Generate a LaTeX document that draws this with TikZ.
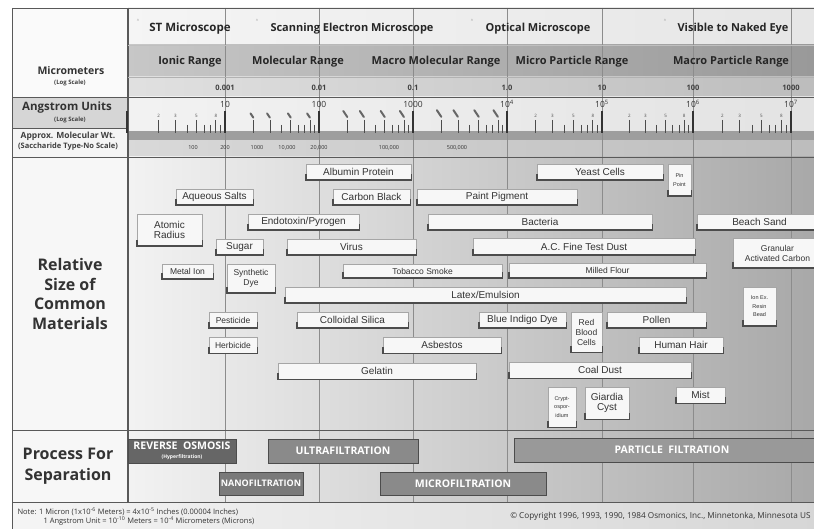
\documentclass[tikz,border=0pt]{standalone}
\usepackage{fontspec}
\setsansfont{Liberation Sans}
\newfontfamily\gill{Open Sans}
\usepackage{tikz}

\begin{document}
\begin{tikzpicture}[x=1pt, y=-1pt,
    mat/.style={draw=black!35, fill=black!3, inner sep=0pt, align=center, text=black!80},
    matL/.style={mat, font=\sffamily\fontsize{10}{10.5}\selectfont},
    matM/.style={mat, font=\sffamily\fontsize{8.5}{10}\selectfont},
    matS/.style={mat, font=\sffamily\fontsize{5.5}{8.5}\selectfont},
    foot/.style={line width=1.4pt, black!70},
    proc/.style={draw=black!70, line width=0.8pt, text=white, inner sep=0pt, align=center,
        font=\gill\bfseries\fontsize{10.5}{10}\selectfont},
    head/.style={font=\gill\bfseries\fontsize{11}{12}\selectfont, text=black!85},
    side label/.style={font=\gill\bfseries\fontsize{16}{19.5}\selectfont, align=center, text=black!80},
    smallbold/.style={font=\gill\bfseries\fontsize{6}{7}\selectfont, text=black!75, align=center},
    scale num/.style={font=\gill\fontsize{8.5}{9}\selectfont, text=black!80},
    tick num/.style={font=\gill\fontsize{4.5}{5}\selectfont, text=black!70},
    note/.style={font=\gill\fontsize{7.5}{8}\selectfont, text=black!80},
    frame line/.style={black!65, line width=0.8pt},
    decade line/.style={black!45, line width=0.6pt},
    minor tick/.style={black!70, line width=0.7pt},
    major tick/.style={black!80, line width=1.3pt},
    mol/.style={black!60, line width=2pt, line cap=round},
]
    \useasboundingbox (0,0) rectangle (814,529);
    \path[clip] (0,0) rectangle (814,529);
    \fill[white] (0,0) rectangle (814,529);
    % Backgrounds
    \shade[left color=black!4, right color=black!16] (12,502) rectangle (814,529);
    \shade[left color=black!4, right color=black!10] (128,8) rectangle (814,45);
    \shade[left color=black!22, right color=black!40] (128,45) rectangle (814,77);
    \shade[left color=black!12, right color=black!26] (128,77) rectangle (814,97);
    \shade[left color=black!5, right color=black!11] (128,97) rectangle (814,131);
    \fill[black!38] (128,131) rectangle (814,141);
    \shade[left color=black!15, right color=black!26] (128,141) rectangle (814,157);
    \shade[left color=black!5, right color=black!34] (128,157) rectangle (814,502);
    \fill[black!2] (12,8) rectangle (128,97);
    \fill[black!16] (12,97) rectangle (128,128);
    \fill[black!4] (12,128) rectangle (128,157);
    \fill[black!3] (12,157) rectangle (128,502);
    % Decade lines
    \foreach \x in {225,319,413,507,602,693,791}
        \draw[decade line] (\x,8) -- (\x,502);
    % Frame
    \draw[frame line] (12,8) -- (814,8);
    \draw[frame line] (12,8) -- (12,529);
    \draw[frame line, line width=1.6pt] (128,8) -- (128,502);
    \foreach \y in {97,157,430,502}
        \draw[frame line] (12,\y) -- (814,\y);
    \draw[frame line] (12,128) -- (128,128);
    \draw[black!25] (128,45) -- (814,45);
    \draw[black!30] (128,77) -- (814,77);

    % Microscopes
    \node[head, font=\gill\bfseries\fontsize{11.5}{12}\selectfont] (stm) at (190,29) {ST Microscope};
    \node[head] (sem) at (352,29) {Scanning Electron Microscope};
    \node[head] (opt) at (538,29) {Optical Microscope};
    \node[head] (eye) at (733,29) {Visible to Naked Eye};
    \foreach \x in {138,257,472,665}
        \node[tick num, text=black!45] (car\x) at (\x,21) {\textasciicircum};
    % Ranges
    \node[head] (ionic) at (190,62) {Ionic Range};
    \node[head] (molec) at (298,62) {Molecular Range};
    \node[head] (macmol) at (436,62) {Macro Molecular Range};
    \node[head] (micpart) at (572,62) {Micro Particle Range};
    \node[head] (macpart) at (731,62) {Macro Particle Range};
    % Micrometers
    \foreach \x/\v in {225/0.001,319/0.01,413/0.1,507/1.0,602/10,693/100,791/1000}
        \node[smallbold, font=\gill\bfseries\fontsize{7.5}{8}\selectfont] (um\x) at (\x,88) {\v};
    % Angstrom scale
    \foreach \a/\b in {130/225,225/319,319/413,413/507,507/602,602/693,693/791}{
        \foreach \k in {4,6,7,9}
            \draw[minor tick] ({\a+(\b-\a)*log10(\k)},125) -- ++(0,8);
        \foreach \k in {2,3,5,8}
            \draw[minor tick] ({\a+(\b-\a)*log10(\k)},120) -- ++(0,13);
    }
    \foreach \a/\b in {130/225,507/602,602/693,693/791}
        \foreach \k in {2,3,5,8}
            \node[tick num] (tk\a-\k) at ({\a+(\b-\a)*log10(\k)},116) {\k};
    \foreach \a/\b/\s in {225/319/0.7,319/413/1,413/507/1.1}
        \foreach \k in {2,3,5,8}
            \draw[mol] ({\a+(\b-\a)*log10(\k)-4*\s},{119-8*\s}) -- ({\a+(\b-\a)*log10(\k)},{119-2*\s});
    \draw[major tick] (127,111) -- (127,133);
    \foreach \x/\t in {225/10,319/100,413/1000,507/10\textsuperscript{4},602/10\textsuperscript{5},693/10\textsuperscript{6},791/10\textsuperscript{7}}{
        \draw[major tick] (\x,111) -- (\x,133);
        \node[scale num] (ang\x) at (\x,104) {\t};
    }
    % Molecular weight
    \foreach \x/\v in {193/100,225/200,257/1000,287/{10,000},319/{20,000},389/{100,000},457/{500,000}}
        \node[note, font=\gill\fontsize{5.5}{6}\selectfont] (mw\x) at (\x,148) {\v};

    % Left column
    \node[font=\gill\bfseries\fontsize{10.5}{13}\selectfont, text=black!80] (um) at (71,71) {Micrometers};
    \node[smallbold] (umlog) at (70,83) {(Log Scale)};
    \node[font=\gill\bfseries\fontsize{11.5}{13}\selectfont, text=black!80] (au) at (67,108) {Angstrom Units};
    \node[smallbold] (aulog) at (70,120) {(Log Scale)};
    \node[smallbold, font=\gill\bfseries\fontsize{8.5}{8}\selectfont] (mwt) at (68,136) {Approx. Molecular Wt.};
    \node[smallbold, font=\gill\bfseries\fontsize{7.5}{7}\selectfont] (sacc) at (68,147) {(Saccharide Type-No Scale)};
    \node[side label] (rel) at (70,294) {Relative\\Size of\\Common\\Materials};
    \node[side label, font=\gill\bfseries\fontsize{16}{21}\selectfont] (proc) at (68,466) {Process For\\Separation};

    % Materials
    \foreach \nm/\cx/\cy/\w/\h/\st/\txt in {
        albumin/358.5/172/105/16/matL/{Albumin Protein},
        aqsalts/214.5/197/77/16/matL/{Aqueous Salts},
        carbon/371.5/197/77/16/matL/{Carbon Black},
        atomic/169.5/230/65/32/matL/{Atomic\\Radius},
        endotox/303.5/222/111/16/matL/{Endotoxin/Pyrogen},
        sugar/239.5/247/47/16/matL/{Sugar},
        virus/351.5/247/129/16/matL/{Virus},
        metalion/187.5/271.5/51/15/matM/{Metal Ion},
        syndye/251/278.5/48/29/matM/{Synthetic\\Dye},
        tobacco/422.5/271/159/14/matM/{Tobacco Smoke},
        latex/485.5/295/401/16/matL/{Latex/Emulsion},
        pesticide/233/320/48/16/matM/{Pesticide},
        silica/352.5/320/111/16/matL/{Colloidal Silica},
        herbicide/233/345/48/16/matM/{Herbicide},
        asbestos/442/345/118/16/matL/{Asbestos},
        gelatin/377/371/198/16/matL/{Gelatin},
        indigo/522.5/320/87/16/matL/{Blue Indigo Dye},
        yeast/600/172/126/16/matL/{Yeast Cells},
        pinpoint/679.5/180/23/32/matS/{Pin\\Point},
        paint/497/197/160/16/matL/{Paint Pigment},
        bacteria/540/222/224/16/matL/{Bacteria},
        beach/759.5/222/125/16/matL/{Beach Sand},
        acdust/584/246.5/222/17/matL/{A.C. Fine Test Dust},
        granular/777.5/253/89/30/matM/{Granular\\Activated Carbon},
        milled/607.5/270.5/197/15/matM/{Milled Flour},
        rbc/586.5/332/31/40/matM/{Red\\Blood\\Cells},
        pollen/656.5/320/99/16/matL/{Pollen},
        ionex/759.5/306.5/33/39/matS/{Ion Ex.\\Resin\\Bead},
        hair/681/345/84/16/matL/{Human Hair},
        coal/600/370/182/16/matL/{Coal Dust},
        crypto/562/407/28/40/matS/{Crypt-\\ospor-\\idium},
        giardia/607/403/44/32/matL/{Giardia\\Cyst},
        mist/700.5/395/49/16/matL/{Mist}}{
        \node[\st, minimum width=\w pt, minimum height=\h pt] (\nm) at (\cx,\cy) {\txt};
        \draw[foot] ([yshift=6pt]\nm.south west) -- (\nm.south west) -- (\nm.south east) -- ([yshift=6pt]\nm.south east);
    }

    % Processes
    \node[proc, fill=black!60, minimum width=108pt, minimum height=24pt] (ro) at (182,451)
        {REVERSE\ \ OSMOSIS\\[-1pt]{\fontsize{5}{6}\selectfont (Hyperfiltration)}};
    \node[proc, fill=black!52, minimum width=84pt, minimum height=23pt,
        font=\gill\bfseries\fontsize{9}{9}\selectfont] (nano) at (261,483.5) {NANOFILTRATION};
    \node[proc, fill=black!46, minimum width=150pt, minimum height=24pt] (ultra) at (343,451) {ULTRAFILTRATION};
    \node[proc, fill=black!46, minimum width=166pt, minimum height=23pt] (micro) at (463,483.5) {MICROFILTRATION};
    \node[proc, fill=black!40, minimum width=316pt, minimum height=24pt] (particle) at (672,450) {PARTICLE\ \ FILTRATION};

    % Notes
    \node[note, anchor=west] (note1) at (14,512)
        {Note: 1 Micron (1x10\textsuperscript{-6} Meters) = 4x10\textsuperscript{-5} Inches (0.00004 Inches)};
    \node[note, anchor=west] (note2) at (40,521)
        {1 Angstrom Unit = 10\textsuperscript{-10} Meters = 10\textsuperscript{-4} Micrometers (Microns)};
    \node[note, anchor=east, font=\gill\fontsize{8.2}{8}\selectfont] (copy) at (814,516)
        {\textcopyright{} Copyright 1996, 1993, 1990, 1984 Osmonics, Inc., Minnetonka, Minnesota US};
\end{tikzpicture}
\end{document}
